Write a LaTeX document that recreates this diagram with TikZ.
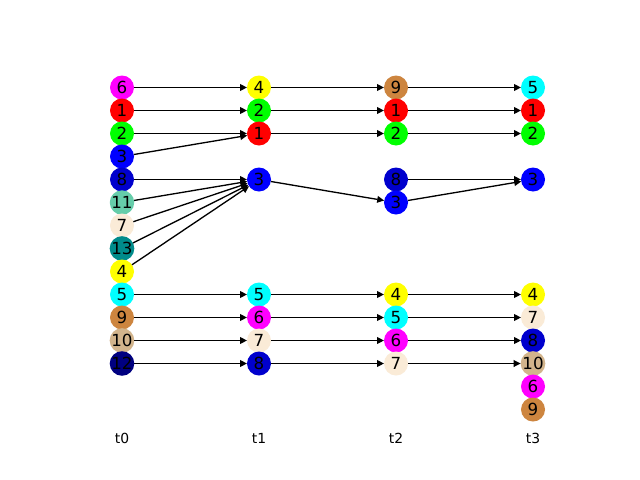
\documentclass[tikz,border=0pt]{standalone}
\usepackage{fontspec}
\setmainfont{DejaVu Sans}
\usetikzlibrary{arrows.meta}
\definecolor{cmag}{HTML}{FF00FF}
\definecolor{cred}{HTML}{FF0000}
\definecolor{clime}{HTML}{00FF00}
\definecolor{cblue}{HTML}{0000FF}
\definecolor{cmblue}{HTML}{0000CD}
\definecolor{cmaq}{HTML}{66CDAA}
\definecolor{caw}{HTML}{FAEBD7}
\definecolor{cdcyan}{HTML}{008B8B}
\definecolor{cyel}{HTML}{FFFF00}
\definecolor{ccyan}{HTML}{00FFFF}
\definecolor{cperu}{HTML}{CD853F}
\definecolor{ctan}{HTML}{D2B48C}
\definecolor{cnavy}{HTML}{000080}
\begin{document}
\begin{tikzpicture}[x=0.72pt,y=-0.72pt,
  nd/.style={circle,minimum size=17.28pt,inner sep=0pt,outer sep=0pt,font=\fontsize{12}{12}\selectfont},
  ed/.style={-{Triangle[length=5pt,width=4.8pt]},line width=0.95pt},
  tl/.style={font=\fontsize{10}{10}\selectfont}]
\useasboundingbox[fill=white] (0,0) rectangle (640,480);
% t0
\node[nd,fill=cmag]   (a0)  at (122,87.5)  {6};
\node[nd,fill=cred]   (a1)  at (122,110.5) {1};
\node[nd,fill=clime]  (a2)  at (122,133.5) {2};
\node[nd,fill=cblue]  (a3)  at (122,156.5) {3};
\node[nd,fill=cmblue] (a4)  at (122,179.5) {8};
\node[nd,fill=cmaq]   (a5)  at (122,202.5) {11};
\node[nd,fill=caw]    (a6)  at (122,225.5) {7};
\node[nd,fill=cdcyan] (a7)  at (122,248.5) {13};
\node[nd,fill=cyel]   (a8)  at (122,271.5) {4};
\node[nd,fill=ccyan]  (a9)  at (122,294.5) {5};
\node[nd,fill=cperu]  (a10) at (122,317.5) {9};
\node[nd,fill=ctan]   (a11) at (122,340.5) {10};
\node[nd,fill=cnavy]  (a12) at (122,363.5) {12};
% t1
\node[nd,fill=cyel]   (b0)  at (259,87.5)  {4};
\node[nd,fill=clime]  (b1)  at (259,110.5) {2};
\node[nd,fill=cred]   (b2)  at (259,133.5) {1};
\node[nd,fill=cblue]  (b4)  at (259,179.5) {3};
\node[nd,fill=ccyan]  (b9)  at (259,294.5) {5};
\node[nd,fill=cmag]   (b10) at (259,317.5) {6};
\node[nd,fill=caw]    (b11) at (259,340.5) {7};
\node[nd,fill=cmblue] (b12) at (259,363.5) {8};
% t2
\node[nd,fill=cperu]  (c0)  at (396,87.5)  {9};
\node[nd,fill=cred]   (c1)  at (396,110.5) {1};
\node[nd,fill=clime]  (c2)  at (396,133.5) {2};
\node[nd,fill=cmblue] (c4)  at (396,179.5) {8};
\node[nd,fill=cblue]  (c5)  at (396,202.5) {3};
\node[nd,fill=cyel]   (c9)  at (396,294.5) {4};
\node[nd,fill=ccyan]  (c10) at (396,317.5) {5};
\node[nd,fill=cmag]   (c11) at (396,340.5) {6};
\node[nd,fill=caw]    (c12) at (396,363.5) {7};
% t3
\node[nd,fill=ccyan]  (d0)  at (533,87.5)  {5};
\node[nd,fill=cred]   (d1)  at (533,110.5) {1};
\node[nd,fill=clime]  (d2)  at (533,133.5) {2};
\node[nd,fill=cblue]  (d4)  at (533,179.5) {3};
\node[nd,fill=cyel]   (d9)  at (533,294.5) {4};
\node[nd,fill=caw]    (d10) at (533,317.5) {7};
\node[nd,fill=cmblue] (d11) at (533,340.5) {8};
\node[nd,fill=ctan]   (d12) at (533,363.5) {10};
\node[nd,fill=cmag]   (d13) at (533,386.5) {6};
\node[nd,fill=cperu]  (d14) at (533,409.5) {9};
% labels
\node[tl] (l0) at (122,438.5) {t0};
\node[tl] (l1) at (259,438.5) {t1};
\node[tl] (l2) at (396,438.5) {t2};
\node[tl] (l3) at (533,438.5) {t3};
% edges
\foreach \s/\t in {a0/b0,a1/b1,a2/b2,a3/b2,a4/b4,a5/b4,a6/b4,a7/b4,a8/b4,a9/b9,a10/b10,a11/b11,a12/b12,
  b0/c0,b1/c1,b2/c2,b4/c5,b9/c9,b10/c10,b11/c11,b12/c12,
  c0/d0,c1/d1,c2/d2,c4/d4,c5/d4,c9/d9,c10/d10,c11/d11,c12/d12}
  \draw[ed] (\s) -- (\t);
\end{tikzpicture}
\end{document}
